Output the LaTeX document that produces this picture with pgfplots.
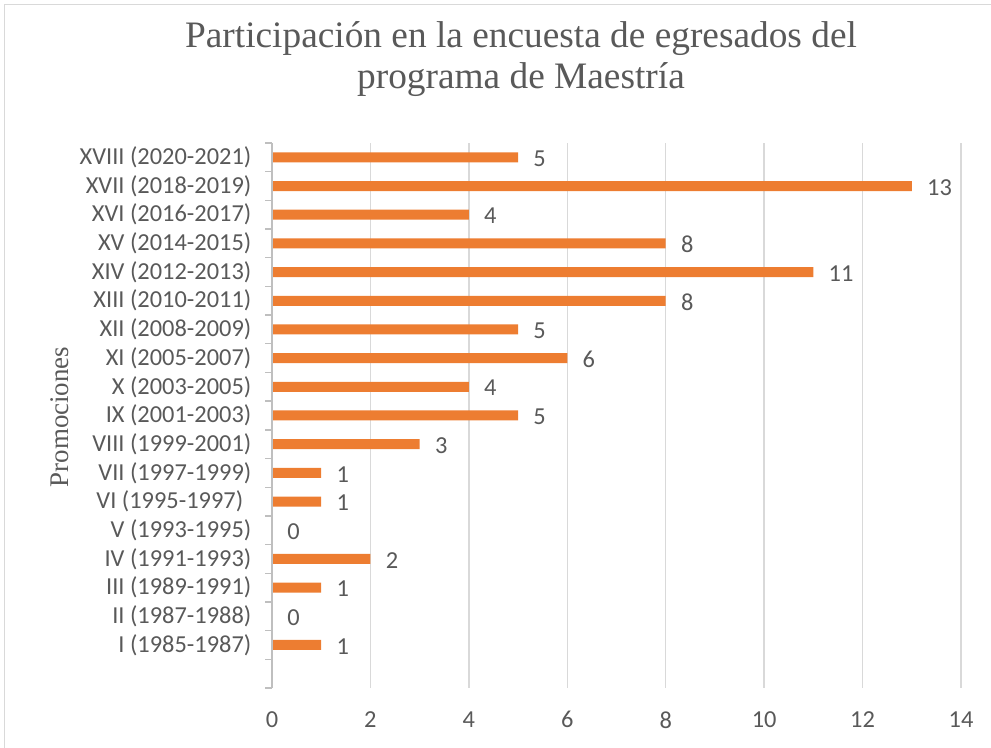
\documentclass[border=0pt]{standalone}
\usepackage{pgfplots}
\pgfplotsset{compat=1.18}
\usepackage{fontspec}
\setmainfont{Carlito}
\newfontfamily\serif{Liberation Serif}
\definecolor{barorange}{HTML}{ED7D31}
\definecolor{txtgray}{HTML}{595959}
\definecolor{gridgray}{HTML}{D9D9D9}
\definecolor{axgray}{HTML}{BFBFBF}
\begin{document}
\begin{tikzpicture}[x=0.75pt,y=0.75pt]
\path[use as bounding box] (0,0) rectangle (991,748);
\draw[gridgray, line width=1pt] (4.5,-5) rectangle (996,743.5);
\node[font=\serif\fontsize{28}{32}\selectfont, text=txtgray, anchor=base] at (521,700) {Participación en la encuesta de egresados del};
\node[font=\serif\fontsize{28}{32}\selectfont, text=txtgray, anchor=base] at (521,659) {programa de Maestría};
\node[font=\serif\fontsize{20.2}{22}\selectfont, text=txtgray, rotate=90, anchor=base] at (68,331) {Promociones};
\begin{axis}[
  at={(204pt,45pt)}, anchor=south west,
  scale only axis, width=516.75pt, height=408.75pt,
  xbar, bar width=7.5pt,
  xmin=0, xmax=14, ymin=-0.5, ymax=18.5,
  /pgf/number format/assume math mode=true,
  xtick={0,2,...,14},
  ytick={1,...,18},
  ytick pos=left,
  yticklabels={I (1985-1987), II (1987-1988), III (1989-1991), IV (1991-1993), V (1993-1995), VI (1995-1997)\,\,, VII (1997-1999), VIII (1999-2001), IX (2001-2003), X (2003-2005), XI (2005-2007), XII (2008-2009), XIII (2010-2011), XIV (2012-2013), XV (2014-2015), XVI (2016-2017), XVII (2018-2019), XVIII (2020-2021)},
  minor ytick={-0.5,0.5,...,18.5},
  tick align=outside,
  major tick length=0pt,
  minor tick length=5.25pt,
  minor tick style={axgray, line width=1pt},
  major tick style={draw=none},
  axis line style={draw=none},
  xmajorgrids, grid style={gridgray, line width=1pt},
  tick label style={font=\fontsize{18.3}{20}\selectfont, text=txtgray},
  xticklabel style={yshift=-14pt},
  yticklabel style={xshift=-12pt},
  nodes near coords,
  nodes near coords style={font=\fontsize{18.3}{20}\selectfont, text=txtgray, anchor=west, xshift=8pt, yshift=-1pt},
  clip=false,
]
\addplot[fill=barorange, draw=none] coordinates {
(1,1) (0,2) (1,3) (2,4) (0,5) (1,6) (1,7) (3,8) (5,9) (4,10) (6,11) (5,12) (8,13) (11,14) (8,15) (4,16) (13,17) (5,18)
};
\draw[axgray, line width=1pt] (axis cs:0,-0.5) -- (axis cs:0,18.5);
\end{axis}
\end{tikzpicture}
\end{document}
